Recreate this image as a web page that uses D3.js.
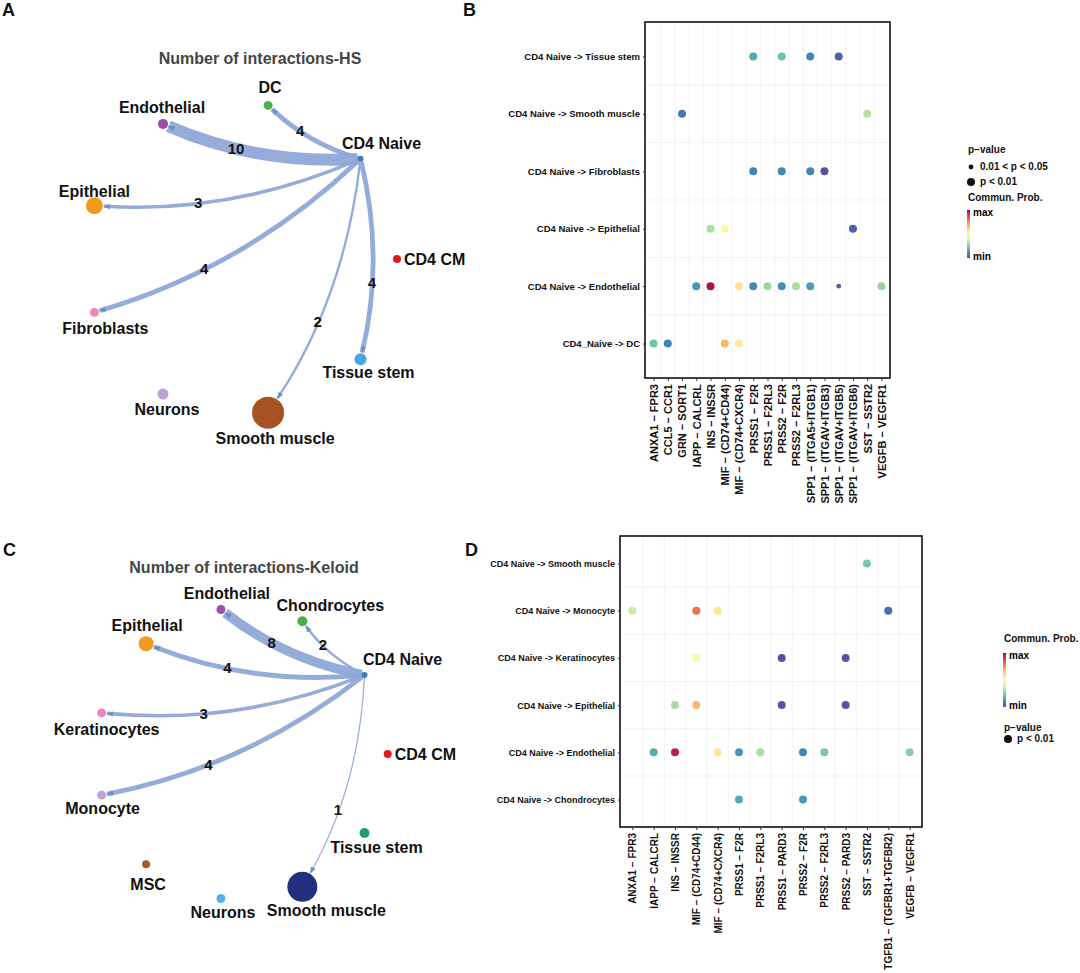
<!DOCTYPE html>
<html>
<head>
<meta charset="utf-8">
<script src="https://cdn.jsdelivr.net/npm/d3@7"></script>
<style>
body { margin: 0; background: #fff; }
text { font-family: "Liberation Sans", Arial, sans-serif; font-weight: bold; }
</style>
</head>
<body>
<div id="fig"></div>
<script>
// ---------------- network data (circle plots) ----------------
const hsNodes = ["CD4 CM", "Tissue stem", "Smooth muscle", "Neurons", "Fibroblasts", "Epithelial", "Endothelial", "DC", "CD4 Naive"];
const hsNodeSize = [16, 36, 256, 30, 20, 72, 25, 20, 9];
const hsNodeColor = ["#e31a1c", "#48a5df", "#a65221", "#bca5d4", "#ec86bd", "#f29a1f", "#9c4ea4", "#4cae4c", "#3a7fbc"];
const hsTargets = ["DC", "Endothelial", "Epithelial", "Fibroblasts", "Smooth muscle", "Tissue stem"];
const hsCounts = [4, 10, 3, 4, 2, 4];

const klNodes = ["CD4 CM", "Tissue stem", "Smooth muscle", "Neurons", "MSC", "Monocyte", "Keratinocytes", "Epithelial", "Endothelial", "Chondrocytes", "CD4 Naive"];
const klNodeSize = [16, 25, 225, 20, 16, 20, 20, 56, 20, 25, 9];
const klNodeColor = ["#e31a1c", "#1f9d72", "#23307d", "#56b3e6", "#a75a2b", "#bea3d2", "#ec86bd", "#f29a1f", "#9c4ea4", "#4cae4c", "#3a7fbc"];
const klTargets = ["Chondrocytes", "Endothelial", "Epithelial", "Keratinocytes", "Monocyte", "Smooth muscle"];
const klCounts = [2, 8, 4, 3, 4, 1];

// ---------------- bubble data ----------------
const hsPairs = ["CD4 Naive -> Tissue stem", "CD4 Naive -> Smooth muscle", "CD4 Naive -> Fibroblasts", "CD4 Naive -> Epithelial", "CD4 Naive -> Endothelial", "CD4_Naive -> DC"];
const hsLR = ["ANXA1 − FPR3", "CCL5 − CCR1", "GRN − SORT1", "IAPP − CALCRL", "INS − INSSR", "MIF − (CD74+CD44)", "MIF − (CD74+CXCR4)", "PRSS1 − F2R", "PRSS1 − F2RL3", "PRSS2 − F2R", "PRSS2 − F2RL3", "SPP1 − (ITGA5+ITGB1)", "SPP1 − (ITGAV+ITGB3)", "SPP1 − (ITGAV+ITGB5)", "SPP1 − (ITGAV+ITGB6)", "SST − SSTR2", "VEGFB − VEGFR1"];
// [pair index, LR index, commun. prob (0=min,1=max), p class (2: p<0.01, 1: 0.01<p<0.05)]
const hsDots = [
  [0, 7, 0.16, 2], [0, 9, 0.21, 2], [0, 11, 0.10, 2], [0, 13, 0.03, 2],
  [1, 2, 0.07, 2], [1, 15, 0.32, 2],
  [2, 7, 0.09, 2], [2, 9, 0.10, 2], [2, 11, 0.10, 2], [2, 12, 0.00, 2],
  [3, 4, 0.30, 2], [3, 5, 0.52, 2], [3, 14, 0.03, 2],
  [4, 3, 0.13, 2], [4, 4, 0.97, 2], [4, 6, 0.58, 2], [4, 7, 0.10, 2], [4, 8, 0.28, 2], [4, 9, 0.11, 2],
  [4, 10, 0.30, 2], [4, 11, 0.14, 2], [4, 13, 0.03, 1], [4, 16, 0.27, 2],
  [5, 0, 0.22, 2], [5, 1, 0.09, 2], [5, 5, 0.68, 2], [5, 6, 0.56, 2]
];

const klPairs = ["CD4 Naive -> Smooth muscle", "CD4 Naive -> Monocyte", "CD4 Naive -> Keratinocytes", "CD4 Naive -> Epithelial", "CD4 Naive -> Endothelial", "CD4 Naive -> Chondrocytes"];
const klLR = ["ANXA1 − FPR3", "IAPP − CALCRL", "INS − INSSR", "MIF − (CD74+CD44)", "MIF − (CD74+CXCR4)", "PRSS1 − F2R", "PRSS1 − F2RL3", "PRSS1 − PARD3", "PRSS2 − F2R", "PRSS2 − F2RL3", "PRSS2 − PARD3", "SST − SSTR2", "TGFB1 − (TGFBR1+TGFBR2)", "VEGFB − VEGFR1"];
const klDots = [
  [0, 11, 0.22, 2],
  [1, 0, 0.36, 2], [1, 3, 0.80, 2], [1, 4, 0.58, 2], [1, 12, 0.05, 2],
  [2, 3, 0.47, 2], [2, 7, 0.00, 2], [2, 10, 0.00, 2],
  [3, 2, 0.30, 2], [3, 3, 0.68, 2], [3, 7, 0.00, 2], [3, 10, 0.00, 2],
  [4, 1, 0.17, 2], [4, 2, 0.95, 2], [4, 4, 0.58, 2], [4, 5, 0.12, 2], [4, 6, 0.30, 2],
  [4, 8, 0.10, 2], [4, 9, 0.23, 2], [4, 13, 0.25, 2],
  [5, 5, 0.16, 2], [5, 8, 0.13, 2]
];

const W = 1080, H = 973;
const svg = d3.select("#fig").append("svg").attr("width", W).attr("height", H);
const defs = svg.append("defs");
const edgeColor = "#8fa8d8";

defs.append("marker")
  .attr("id", "arrow")
  .attr("viewBox", "0 -4 8 8")
  .attr("refX", 7).attr("refY", 0)
  .attr("markerUnits", "userSpaceOnUse")
  .attr("markerWidth", 7).attr("markerHeight", 7)
  .attr("orient", "auto")
  .append("path").attr("d", "M0,-3L8,0L0,3Z").attr("fill", "#6f8fc8");

// Spectral colour, reversed so that blue = min and red = max
const probColor = t => d3.interpolateSpectral(1 - t);

function drawNetwork(cfg) {
  const g = svg.append("g");
  const n = cfg.nodes.length;
  const ang = d3.scaleLinear().domain([0, n]).range([0, 2 * Math.PI]);
  const rScale = d3.scaleSqrt().domain([0, d3.max(cfg.sizes)]).range([0, cfg.maxR]);
  const wScale = d3.scaleLinear().domain([0, 10]).range([0, 12]);

  const nodes = cfg.nodes.map((name, i) => ({
    name: name,
    x: cfg.cx + cfg.R * Math.cos(ang(i)),
    y: cfg.cy + cfg.R * Math.sin(ang(i)),
    r: rScale(cfg.sizes[i]),
    color: cfg.colors[i],
    lab: cfg.labels[i]
  }));
  const byName = new Map(nodes.map(d => [d.name, d]));
  const src = byName.get(cfg.source);

  g.append("text")
    .attr("x", cfg.titleX).attr("y", cfg.titleY)
    .attr("text-anchor", "middle")
    .attr("font-size", 16).attr("fill", "#454545")
    .text(cfg.title);

  const edges = cfg.targets.map((t, i) => {
    const tgt = byName.get(t);
    const dx = tgt.x - src.x, dy = tgt.y - src.y;
    // control point, igraph-like curvature
    const c = { x: (src.x + tgt.x) / 2 + 0.12 * dy, y: (src.y + tgt.y) / 2 - 0.12 * dx };
    const u0x = c.x - src.x, u0y = c.y - src.y, l0 = Math.hypot(u0x, u0y);
    const u1x = tgt.x - c.x, u1y = tgt.y - c.y, l1 = Math.hypot(u1x, u1y);
    const s = { x: src.x + u0x / l0 * src.r, y: src.y + u0y / l0 * src.r };
    const e = { x: tgt.x - u1x / l1 * (tgt.r + 1), y: tgt.y - u1y / l1 * (tgt.r + 1) };
    const tt = 0.62;
    const lx = (1 - tt) * (1 - tt) * src.x + 2 * tt * (1 - tt) * c.x + tt * tt * tgt.x;
    const ly = (1 - tt) * (1 - tt) * src.y + 2 * tt * (1 - tt) * c.y + tt * tt * tgt.y;
    return { s: s, c: c, e: e, w: cfg.counts[i], lx: lx, ly: ly };
  });

  g.selectAll("path.edge")
    .data(edges)
    .join("path")
    .attr("class", "edge")
    .attr("d", d => `M${d.s.x},${d.s.y}Q${d.c.x},${d.c.y} ${d.e.x},${d.e.y}`)
    .attr("fill", "none")
    .attr("stroke", edgeColor)
    .attr("stroke-opacity", 0.95)
    .attr("stroke-width", d => wScale(d.w))
    .attr("marker-end", "url(#arrow)");

  g.selectAll("circle.node")
    .data(nodes)
    .join("circle")
    .attr("class", "node")
    .attr("cx", d => d.x).attr("cy", d => d.y)
    .attr("r", d => d.r)
    .attr("fill", d => d.color);

  g.selectAll("text.nlab")
    .data(nodes)
    .join("text")
    .attr("class", "nlab")
    .attr("x", d => d.x + d.lab[0])
    .attr("y", d => d.y + d.lab[1])
    .attr("text-anchor", d => d.lab[2] || "middle")
    .attr("font-size", 16).attr("fill", "#111")
    .text(d => d.name);

  g.selectAll("text.elab")
    .data(edges)
    .join("text")
    .attr("class", "elab")
    .attr("x", d => d.lx).attr("y", d => d.ly)
    .attr("dy", "0.35em")
    .attr("text-anchor", "middle")
    .attr("font-size", 15).attr("fill", "#111")
    .text(d => d.w);
}

function drawBubble(cfg) {
  const g = svg.append("g");
  const x = d3.scalePoint().domain(cfg.lr).range([cfg.x0, cfg.x1]).padding(cfg.padX);
  const y = d3.scalePoint().domain(cfg.pairs).range([cfg.y0, cfg.y1]).padding(cfg.padY);
  const rSize = d3.scaleOrdinal().domain([1, 2]).range([2.4, 4]);

  // grid lines between categories
  g.selectAll("line.vg")
    .data(cfg.lr.slice(1))
    .join("line")
    .attr("x1", d => x(d) - x.step() / 2).attr("x2", d => x(d) - x.step() / 2)
    .attr("y1", cfg.y0).attr("y2", cfg.y1)
    .attr("stroke", "#ececec").attr("stroke-width", 0.7);
  g.selectAll("line.hg")
    .data(cfg.pairs.slice(1))
    .join("line")
    .attr("y1", d => y(d) - y.step() / 2).attr("y2", d => y(d) - y.step() / 2)
    .attr("x1", cfg.x0).attr("x2", cfg.x1)
    .attr("stroke", "#ececec").attr("stroke-width", 0.7);

  g.selectAll("circle.dot")
    .data(cfg.dots)
    .join("circle")
    .attr("cx", d => x(cfg.lr[d[1]]))
    .attr("cy", d => y(cfg.pairs[d[0]]))
    .attr("r", d => rSize(d[3]))
    .attr("fill", d => probColor(d[2]));

  g.append("rect")
    .attr("x", cfg.x0).attr("y", cfg.y0)
    .attr("width", cfg.x1 - cfg.x0).attr("height", cfg.y1 - cfg.y0)
    .attr("fill", "none").attr("stroke", "#111").attr("stroke-width", 1.6);

  const gx = g.append("g")
    .attr("transform", `translate(0,${cfg.y1})`)
    .call(d3.axisBottom(x).tickSize(3).tickSizeOuter(0));
  gx.select(".domain").remove();
  gx.selectAll("line").attr("stroke", "#333");
  gx.selectAll("text")
    .attr("transform", "rotate(-90)")
    .attr("text-anchor", "end")
    .attr("x", -6).attr("y", 0).attr("dy", "0.35em")
    .attr("font-size", cfg.xFont).attr("fill", "#111")
    .attr("font-family", "Liberation Sans, Arial, sans-serif");

  const gy = g.append("g")
    .attr("transform", `translate(${cfg.x0},0)`)
    .call(d3.axisLeft(y).tickSize(2).tickSizeOuter(0).tickPadding(3));
  gy.select(".domain").remove();
  gy.selectAll("line").attr("stroke", "#333");
  gy.selectAll("text")
    .attr("font-size", cfg.yFont).attr("fill", "#111")
    .attr("font-family", "Liberation Sans, Arial, sans-serif");
}

// colour bar gradient
const grad = defs.append("linearGradient").attr("id", "spec")
  .attr("x1", 0).attr("y1", 1).attr("x2", 0).attr("y2", 0);
d3.range(0, 1.0001, 0.1).forEach(t => {
  grad.append("stop").attr("offset", t).attr("stop-color", probColor(t));
});

function colorBar(x, y, h) {
  svg.append("rect").attr("x", x).attr("y", y).attr("width", 3).attr("height", h).attr("fill", "url(#spec)");
  svg.append("text").attr("x", x + 6).attr("y", y + 6).attr("font-size", 10).text("max");
  svg.append("text").attr("x", x + 6).attr("y", y + h + 2).attr("font-size", 10).text("min");
}
function legendText(x, y, s) {
  svg.append("text").attr("x", x).attr("y", y).attr("font-size", 10).attr("fill", "#111").text(s);
}

// ---------------- panel A ----------------
drawNetwork({
  nodes: hsNodes, sizes: hsNodeSize, colors: hsNodeColor,
  targets: hsTargets, counts: hsCounts, source: "CD4 Naive",
  cx: 241, cy: 259, R: 156, maxR: 16,
  title: "Number of interactions-HS", titleX: 260, titleY: 64,
  labels: [[7, 6, "start"], [8, 19], [7, 31], [4, 21], [11, 22], [0, -9], [-1, -11], [2, -12], [21, -10]]
});

// ---------------- panel C ----------------
drawNetwork({
  nodes: klNodes, sizes: klNodeSize, colors: klNodeColor,
  targets: klTargets, counts: klCounts, source: "CD4 Naive",
  cx: 241.7, cy: 754, R: 146, maxR: 15,
  title: "Number of interactions-Keloid", titleX: 244, titleY: 573,
  labels: [[7, 6, "start"], [12, 20], [24, 29], [2, 19], [2, 26], [1, 19], [5, 22], [1, -13], [6, -10], [28, -10], [38, -10]]
});

// ---------------- panel B ----------------
drawBubble({
  pairs: hsPairs, lr: hsLR, dots: hsDots,
  x0: 645, x1: 890, y0: 22, y1: 378, padX: 0.6, padY: 0.6,
  xFont: 11, yFont: 9.5
});
legendText(968, 153, "p−value");
svg.append("circle").attr("cx", 971).attr("cy", 167).attr("r", 2.4).attr("fill", "#111");
legendText(980, 170, "0.01 < p < 0.05");
svg.append("circle").attr("cx", 971).attr("cy", 182).attr("r", 4).attr("fill", "#111");
legendText(980, 185, "p < 0.01");
legendText(968, 201, "Commun. Prob.");
colorBar(967, 210, 48);

// ---------------- panel D ----------------
drawBubble({
  pairs: klPairs, lr: klLR, dots: klDots,
  x0: 620, x1: 922, y0: 536, y1: 827, padX: 0.58, padY: 0.58,
  xFont: 10, yFont: 9
});
legendText(1004, 642, "Commun. Prob.");
colorBar(1003, 653, 54);
legendText(1004, 731, "p−value");
svg.append("circle").attr("cx", 1008).attr("cy", 739).attr("r", 4).attr("fill", "#111");
legendText(1017, 742, "p < 0.01");

// panel letters
[["A", 2, 16], ["B", 463, 16], ["C", 3, 556], ["D", 465, 556]].forEach(p => {
  svg.append("text").attr("x", p[1]).attr("y", p[2]).attr("font-size", 18).attr("fill", "#111").text(p[0]);
});
</script>
</body>
</html>
